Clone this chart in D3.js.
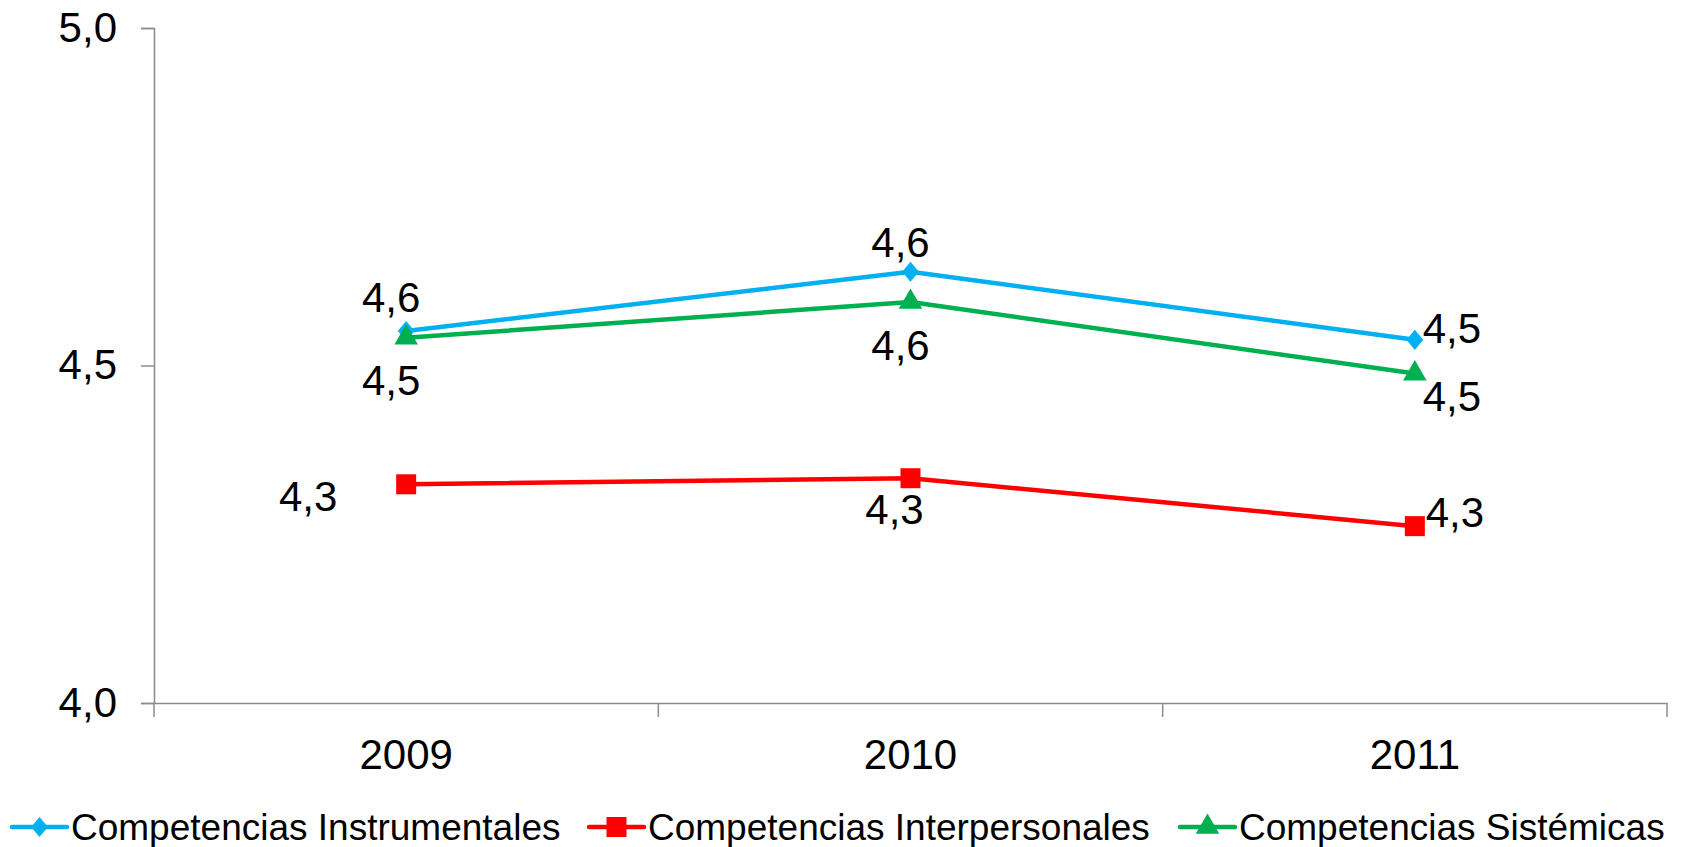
<!DOCTYPE html>
<html>
<head>
<meta charset="utf-8">
<script src="https://cdn.jsdelivr.net/npm/d3@7"></script>
<style>
  body { margin: 0; background: #fff; }
  text { font-family: "Liberation Sans", Arial, sans-serif; fill: #000; }
</style>
</head>
<body>
<div id="chart"></div>
<script>
// ----------------------------
// Data
// ----------------------------
const years = ["2009", "2010", "2011"];
const seriesNames = ["Competencias Instrumentales", "Competencias Interpersonales", "Competencias Sistémicas"];
const instrumentales = [4.551, 4.639, 4.538];
const interpersonales = [4.324, 4.333, 4.262];
const sistemicas = [4.541, 4.594, 4.488];
const yTicks = [4.0, 4.5, 5.0];

// label offsets (dx, dy) per point, as in the original layout
const labelOffsets = [
    [[-15, -34], [-10, -29], [37, -11]],
    [[-98, 12], [-16, 31], [40, -14]],
    [[-15, 43], [-10, 43], [37, 23]]
];

const colors = ["#00B0F0", "#FF0000", "#00B050"];

// Excel-like marker shapes
const diamond = {
    draw(context, size) {
        const w = Math.sqrt(size) / 2, h = w * 1.2;
        context.moveTo(0, -h);
        context.lineTo(w, 0);
        context.lineTo(0, h);
        context.lineTo(-w, 0);
        context.closePath();
    }
};
const symbols = [diamond, d3.symbolSquare, d3.symbolTriangle];
const symbolSizes = [280, 400, 240];

const series = [instrumentales, interpersonales, sistemicas].map((values, i) => ({
    name: seriesNames[i],
    values: values,
    color: colors[i],
    symbol: symbols[i],
    size: symbolSizes[i],
    offsets: labelOffsets[i]
}));

const width = 1684;
const height = 847;
const marginTop = 28;
const marginRight = 17;
const marginBottom = 144;
const marginLeft = 154;

const locale = d3.formatLocale({ decimal: ",", thousands: ".", grouping: [3], currency: ["", "€"] });
const fmt = locale.format(".1f");

// Scales
const x = d3.scaleBand()
    .domain(years)
    .range([marginLeft, width - marginRight]);

const y = d3.scaleLinear()
    .domain([4.0, 5.0])
    .range([height - marginBottom, marginTop]);

const svg = d3.create("svg")
    .attr("width", width)
    .attr("height", height)
    .attr("viewBox", [0, 0, width, height]);

// ----------------------------
// Axes
// ----------------------------
const axisColor = "#8c8c8c";

const yAxis = svg.append("g")
    .attr("transform", `translate(${marginLeft},0)`)
    .call(d3.axisLeft(y).tickValues(yTicks).tickFormat(fmt).tickSize(13).tickPadding(24));
yAxis.select(".domain").attr("stroke", axisColor).attr("stroke-width", 1.5);
yAxis.selectAll(".tick line").attr("stroke", axisColor).attr("stroke-width", 1.5);
yAxis.selectAll(".tick text")
    .attr("font-size", 42)
    .attr("font-family", "Liberation Sans, Arial, sans-serif")
    .attr("fill", "#000");

const xAxis = svg.append("g")
    .attr("transform", `translate(0,${height - marginBottom})`)
    .call(d3.axisBottom(x).tickSize(0).tickPadding(36));
xAxis.select(".domain").attr("stroke", axisColor).attr("stroke-width", 1.5);
xAxis.selectAll(".tick text")
    .attr("font-size", 42)
    .attr("font-family", "Liberation Sans, Arial, sans-serif")
    .attr("fill", "#000");

// tick marks between the categories
const boundaries = years.map(d => x(d)).concat([x(years[years.length - 1]) + x.bandwidth()]);
xAxis.selectAll(".bound")
    .data(boundaries)
    .join("line")
    .attr("class", "bound")
    .attr("x1", d => d).attr("x2", d => d)
    .attr("y1", 0).attr("y2", 14)
    .attr("stroke", axisColor)
    .attr("stroke-width", 1.5);

// ----------------------------
// Lines, markers and labels
// ----------------------------
const cx = d => x(d) + x.bandwidth() / 2;

const line = d3.line()
    .x((d, i) => cx(years[i]))
    .y(d => y(d));

series.forEach(s => {
    const g = svg.append("g");

    g.append("path")
        .datum(s.values)
        .attr("fill", "none")
        .attr("stroke", s.color)
        .attr("stroke-width", 4.5)
        .attr("stroke-linejoin", "round")
        .attr("d", line);

    g.selectAll("path.marker")
        .data(s.values)
        .join("path")
        .attr("class", "marker")
        .attr("transform", (d, i) => `translate(${cx(years[i])},${y(d)})`)
        .attr("d", d3.symbol().type(s.symbol).size(s.size))
        .attr("fill", s.color);

    g.selectAll("text")
        .data(s.values)
        .join("text")
        .attr("x", (d, i) => cx(years[i]) + s.offsets[i][0])
        .attr("y", (d, i) => y(d) + s.offsets[i][1])
        .attr("text-anchor", "middle")
        .attr("dominant-baseline", "central")
        .attr("font-size", 42)
        .text(d => fmt(d));
});

// ----------------------------
// Legend
// ----------------------------
const legendY = 827;
const legendX = [12, 589, 1180];

const legend = svg.append("g")
    .selectAll("g")
    .data(series)
    .join("g")
    .attr("transform", (d, i) => `translate(${legendX[i]},${legendY})`);

legend.append("line")
    .attr("x1", 0).attr("x2", 55)
    .attr("y1", 0).attr("y2", 0)
    .attr("stroke", d => d.color)
    .attr("stroke-width", 4.5)
    .attr("stroke-linecap", "round");

legend.append("path")
    .attr("transform", "translate(27.5,0)")
    .attr("d", d => d3.symbol().type(d.symbol).size(d.size)())
    .attr("fill", d => d.color);

legend.append("text")
    .attr("x", 59)
    .attr("y", 0)
    .attr("dominant-baseline", "central")
    .attr("font-size", 37)
    .text(d => d.name);

document.getElementById("chart").appendChild(svg.node());
</script>
</body>
</html>
